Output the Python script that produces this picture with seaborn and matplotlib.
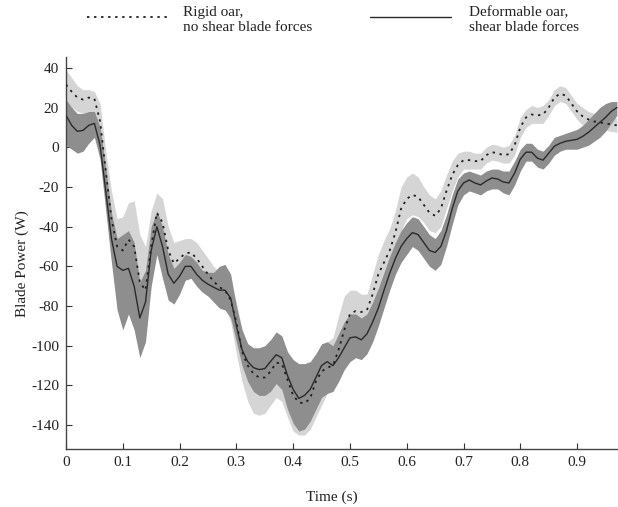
import numpy as np
import pandas as pd
import matplotlib
matplotlib.use("Agg")
import matplotlib.pyplot as plt
from matplotlib.lines import Line2D
import seaborn as sns

# sampling instants (s)
time = np.round(np.arange(98) * 0.01, 2)

# rigid oar, no shear blade forces: mean and band limits (W)
rigid_mean = [31.5, 28, 25, 24, 25, 24.5, 13, -12, -36, -50,
              -52, -46.5, -50, -68, -72, -50, -33, -38, -52, -58.5,
              -56, -53.5, -53, -56, -60, -64, -67.5, -70.5, -72, -77,
              -88, -103, -110, -114, -116, -116, -113, -108.5, -109, -117,
              -125, -128.5, -129, -126.5, -118, -113, -111, -110, -102, -92,
              -84, -82.5, -83, -82, -74, -64, -58, -52, -43, -31,
              -26, -24, -25, -29, -33, -34.5, -31, -22, -14, -9,
              -6.5, -6.5, -7, -7, -4, -2.5, -3, -4, -3.5, 1,
              10, 15, 16.5, 16, 16.5, 20, 25, 27, 26, 22,
              18, 15.5, 14, 13, 12.5, 12, 11.5, 11]
rigid_upper = [39, 35, 31, 29, 29, 28, 22, -2, -22, -36,
               -35, -28, -27, -44, -50, -32, -23, -26, -40, -48,
               -47, -46, -46, -48, -52, -56, -60, -63, -65, -68,
               -78, -92, -99, -101, -102, -102, -99, -96, -97, -105,
               -112, -115, -116, -114, -106, -100, -98, -96, -85, -75,
               -72, -72, -74, -74, -64, -54, -47, -41, -32, -20,
               -15, -13, -15, -20, -24, -26, -22, -14, -7, -3,
               -2, -2, -3, -3, 0, 1.5, 1, 0, 1, 6,
               15, 19, 21, 20, 21, 24, 29, 31, 30, 26,
               22, 20, 18, 17, 16, 15.5, 15, 14.5]
rigid_lower = [22, 20, 18, 17, 17, 16, 2, -30, -56, -66,
               -64, -60, -64, -80, -86, -62, -46, -54, -64, -68,
               -65, -62, -62, -64, -68, -72, -75, -78, -80, -88,
               -104, -118, -128, -134, -135, -134, -130, -126, -128, -136,
               -143, -145, -145, -142, -136, -130, -124, -122, -114, -104,
               -96, -94, -94, -92, -86, -76, -70, -64, -55, -42,
               -36, -34, -35, -38, -42, -43, -40, -31, -22, -15,
               -11, -11, -11, -11, -8, -6.5, -7, -8, -8, -4,
               5, 10, 12, 12, 12, 16, 21, 23, 22, 18,
               14, 11, 10, 9, 9, 8.5, 8, 7.5]

# deformable oar, shear blade forces: mean and band limits (W)
deform_mean = [16, 11, 8, 8.5, 11, 12, 1, -22, -46, -60,
               -62, -61, -70, -86, -78, -52, -40, -50, -64, -68.5,
               -65, -60, -60, -64, -67, -69, -70.5, -72, -72, -76,
               -90, -102, -108, -111, -112, -111.5, -108, -104.5, -106, -115,
               -122, -126.5, -125, -122, -116, -110, -108, -110, -106, -101,
               -96, -95.5, -97, -94, -88, -81, -72, -63.5, -56, -50,
               -46, -43, -44, -48, -52, -53, -50, -42, -31, -22,
               -18, -16.5, -18, -19, -17, -15.5, -16, -17.5, -18, -13,
               -6, -2.5, -2.5, -5.5, -6.5, -3, 0.5, 2, 3, 3.5,
               4, 5.5, 7.5, 10, 12.5, 15, 18, 20]
deform_upper = [24, 20, 17, 17, 18, 18, 10, -10, -33, -46,
                -44, -42, -48, -68, -62, -40, -32, -40, -54, -61,
                -58, -54, -55, -58, -62, -63, -63, -60, -59, -64,
                -80, -92, -99, -101, -101, -100, -97, -93, -95, -103,
                -107, -109, -109, -108, -104, -99, -98, -100, -94, -88,
                -84, -84, -86, -84, -78, -71, -63, -55, -48, -42,
                -38, -35, -36, -40, -44, -46, -42, -34, -24, -16,
                -13, -12, -13, -14, -12, -11, -11, -12, -12, -7,
                -1, 2, 2, -1, -2, 1, 5, 6, 7, 8,
                9, 11, 14, 17, 20, 22, 23, 23]
deform_lower = [1, -1, -3, -2, 2, 5, -6, -32, -58, -82,
                -92, -84, -92, -106, -98, -70, -54, -66, -77, -79,
                -74, -67, -66, -70, -73, -75, -78, -81, -82, -86,
                -98, -110, -118, -123, -125, -125, -123, -119, -122, -132,
                -139, -143, -142, -138, -132, -126, -124, -123, -118, -112,
                -108, -106, -107, -104, -98, -90, -81, -72, -64, -58,
                -54, -50, -52, -56, -60, -62, -59, -50, -39, -29,
                -24, -22, -23, -24, -22, -21, -21, -23, -24, -19,
                -12, -7, -7, -10, -11, -8, -4, -2, -1, -1,
                -1, 0, 1, 3, 5, 8, 12, 16]

labels = ["Rigid oar,\nno shear blade forces",
          "Deformable oar,\nshear blade forces"]

df = pd.DataFrame({
    "Time (s)": np.concatenate([time, time]),
    "Blade Power (W)": np.concatenate([rigid_mean, deform_mean]),
    "case": [labels[0]] * len(time) + [labels[1]] * len(time),
})

sns.set_style("ticks")
plt.rcParams["font.family"] = ["Liberation Serif", "DejaVu Serif"]
plt.rcParams["axes.unicode_minus"] = False
FS = 11

fig = plt.figure(figsize=(6.18, 5.07), dpi=100)
W, H = 618, 507
ax = fig.add_axes([66 / W, 1 - 449 / H, (618 - 66) / W, (449 - 56.7) / H])

# spread bands: rigid first, deformable drawn over it
ax.fill_between(time, rigid_lower, rigid_upper, color="#d5d5d5", lw=0, zorder=1)
ax.fill_between(time, deform_lower, deform_upper, color="#8e8e8e", lw=0, zorder=2)

sns.lineplot(data=df, x="Time (s)", y="Blade Power (W)", hue="case",
             style="case", palette=["#1e1e1e", "#2a2a2a"],
             dashes=[(1.3, 2.6), ""], linewidth=1.3, legend=False,
             ax=ax, zorder=3)
ax.lines[1].set_linewidth(1.0)

ax.set_xlim(0, 0.972)
ax.set_ylim(-152, 45.6)
ax.set_xticks(np.round(np.arange(10) * 0.1, 1))
ax.set_xticklabels(["0", "0.1", "0.2", "0.3", "0.4", "0.5", "0.6", "0.7", "0.8", "0.9"])
ax.set_yticks([-140, -120, -100, -80, -60, -40, -20, 0, 20, 40])
ax.tick_params(direction="in", length=4, width=0.8, colors="#333333",
               labelsize=FS, labelcolor="#222222", pad=5)
for s in ["top", "right"]:
    ax.spines[s].set_visible(False)
for s in ["left", "bottom"]:
    ax.spines[s].set_color("#444444")
    ax.spines[s].set_linewidth(1.0)

ax.set_xlabel("Time (s)", fontsize=FS, color="#222222", va="center")
ax.xaxis.set_label_coords((332 - 66) / 552, (449 - 497) / 392.3)
ax.set_ylabel("Blade Power (W)", fontsize=FS, color="#222222", va="center")
ax.yaxis.set_label_coords((22 - 66) / 552, (449 - 264) / 392.3)

# legend along the top edge
def px(x, y):
    return x / W, 1 - y / H

x0, y0 = px(87, 17)
x1, _ = px(168, 17)
fig.add_artist(Line2D([x0, x1], [y0, y0], transform=fig.transFigure,
                      color="#1e1e1e", lw=1.3, dashes=(1.3, 2.6)))
x0, y0 = px(370, 17)
x1, _ = px(451, 17)
fig.add_artist(Line2D([x0, x1], [y0, y0], transform=fig.transFigure,
                      color="#2a2a2a", lw=1.0))
tx, ty = px(183, 6)
fig.text(tx, ty, labels[0], ha="left", va="top", fontsize=FS,
         color="#222222", linespacing=1.2)
tx, ty = px(469, 6)
fig.text(tx, ty, labels[1], ha="left", va="top", fontsize=FS,
         color="#222222", linespacing=1.2)

fig.savefig("out.png", dpi=100)
